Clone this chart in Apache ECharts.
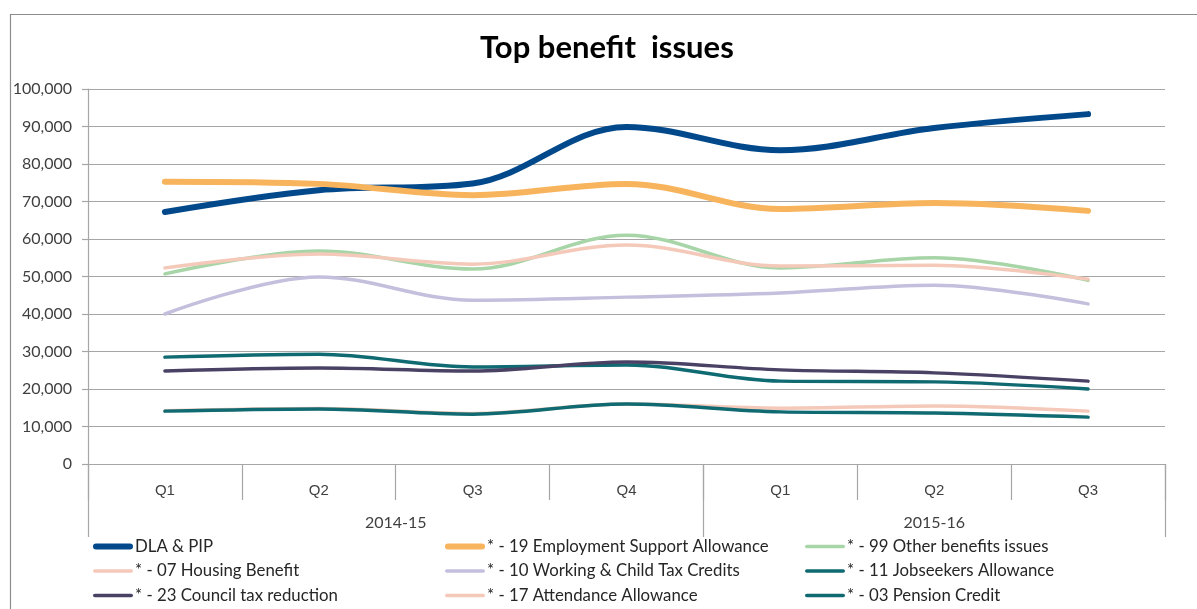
<!DOCTYPE html>
<html>
<head>
<meta charset="utf-8">
<title>Top benefit issues</title>
<script src="https://cdn.jsdelivr.net/npm/echarts@6/dist/echarts.min.js"></script>
<style>
  html, body { margin: 0; padding: 0; background: #fff; }
  #chart { width: 1197px; height: 609px; }
</style>
</head>
<body>
<div id="chart"></div>
<script>
// Quarters and financial years on the category axis
const quarters = ['Q1', 'Q2', 'Q3', 'Q4', 'Q1', 'Q2', 'Q3'];
const years = ['2014-15', '2015-16'];
const yearQuarterCounts = [4, 3];

// Enquiries per quarter for each benefit issue
const dlaPip = [67200, 73000, 74800, 89900, 83700, 89600, 93300];
const esa = [75300, 74700, 71700, 74700, 68000, 69600, 67500];
const otherBenefits = [50700, 56800, 52000, 61000, 52300, 55000, 49000];
const housingBenefit = [52300, 56000, 53300, 58400, 52800, 53000, 49300];
const taxCredits = [40000, 49900, 43700, 44500, 45600, 47700, 42700];
const jobseekers = [28500, 29300, 25900, 26400, 22100, 21900, 20000];
const councilTax = [24800, 25600, 24800, 27200, 25100, 24300, 22100];
const attendance = [14200, 14800, 13500, 16000, 14900, 15500, 14100];
const pensionCredit = [14100, 14700, 13300, 16000, 13900, 13600, 12500];

const seriesNames = [
  'DLA & PIP',
  '* - 19 Employment Support Allowance',
  '* - 99 Other benefits issues',
  '* - 07 Housing Benefit',
  '* - 10 Working & Child Tax Credits',
  '* - 11 Jobseekers Allowance',
  '* - 23 Council tax reduction',
  '* - 17 Attendance Allowance',
  '* - 03 Pension Credit'
];
const seriesData = [dlaPip, esa, otherBenefits, housingBenefit, taxCredits, jobseekers, councilTax, attendance, pensionCredit];
const seriesColors = ['#02498b', '#f8b45c', '#a7d5a7', '#f4c9b9', '#c3bfdd', '#0f6a72', '#4a4265', '#f4c9b9', '#0f6a72'];
const seriesWidths = [6, 6, 3.5, 3.5, 3.5, 3.5, 3.5, 3.5, 3.5];

// Year group boundaries and label centres on a 0..N scale
const yearBounds = [0];
const yearCentres = [];
yearQuarterCounts.forEach(function (n) {
  const start = yearBounds[yearBounds.length - 1];
  yearCentres.push(start + n / 2);
  yearBounds.push(start + n);
});

const chart = echarts.init(document.getElementById('chart'), null, { renderer: 'canvas' });

const axisGrey = '#a6a6a6';
const textColor = '#404040';

// Rounded line-segment legend key, 40 wide, as thick as the series line
function lineKey(w) {
  const r = w / 2;
  return 'path://M' + r + ',0 H' + (40 - r) + ' A' + r + ',' + r + ' 0 0 1 ' + (40 - r) + ',' + w +
    ' H' + r + ' A' + r + ',' + r + ' 0 0 1 ' + r + ',0 Z';
}

function legendColumn(indices, left) {
  return {
    orient: 'vertical',
    left: left,
    top: 538,
    height: 71,
    padding: 0,
    itemWidth: 40,
    itemHeight: 14,
    itemGap: 7.5,
    symbolKeepAspect: true,
    data: indices.map(function (i) {
      return { name: seriesNames[i], icon: lineKey(seriesWidths[i]) };
    }),
    textStyle: { fontFamily: 'Lato', fontSize: 16.8, lineHeight: 16, color: '#262626', padding: [0, 0, 0, -3] },
    selectedMode: false
  };
}

chart.setOption({
  backgroundColor: '#ffffff',
  animation: false,
  title: {
    text: 'Top benefit  issues',
    left: 480,
    top: 32,
    padding: 0,
    textStyle: { fontFamily: 'Lato', fontWeight: 'bold', fontSize: 31, color: '#000' }
  },
  graphic: [{
    type: 'rect',
    left: 8,
    top: 12,
    shape: { width: 1300, height: 800 },
    style: { fill: 'none', stroke: '#8c8c8c', lineWidth: 1.2 },
    silent: true,
    z: -10
  }],
  legend: [
    legendColumn([0, 3, 6], 93),
    legendColumn([1, 4, 7], 445),
    legendColumn([2, 5, 8], 805)
  ],
  grid: { left: 88, right: 32, top: 89, bottom: 145, containLabel: false },
  xAxis: [{
    type: 'category',
    data: quarters,
    boundaryGap: true,
    position: 'bottom',
    axisLine: { lineStyle: { color: axisGrey, width: 1.2 } },
    axisTick: { show: true, interval: 0, length: 36, lineStyle: { color: axisGrey, width: 1.2 } },
    axisLabel: { interval: 0, margin: 19, fontFamily: 'Liberation Sans', fontSize: 15, color: textColor }
  }, {
    type: 'value',
    min: 0,
    max: quarters.length,
    position: 'bottom',
    axisLine: { show: false, onZero: false },
    splitLine: { show: false },
    axisTick: { show: true, customValues: yearBounds, length: 73, lineStyle: { color: axisGrey, width: 1.2 } },
    axisLabel: {
      customValues: yearCentres,
      margin: 51,
      fontFamily: 'Lato',
      fontSize: 16,
      color: textColor,
      formatter: function (v) { return years[yearCentres.indexOf(v)]; }
    }
  }],
  yAxis: {
    type: 'value',
    min: 0,
    max: 100000,
    interval: 10000,
    axisLine: { show: true, lineStyle: { color: axisGrey, width: 1.2 } },
    axisTick: { show: true, length: 6, lineStyle: { color: axisGrey, width: 1.2 } },
    splitLine: { lineStyle: { color: axisGrey, width: 1.2 } },
    axisLabel: {
      margin: 16,
      fontFamily: 'Lato',
      fontSize: 16,
      color: textColor,
      formatter: function (v) { return v.toLocaleString('en-GB'); }
    }
  },
  series: seriesNames.map(function (name, i) {
    return {
      name: name,
      type: 'line',
      xAxisIndex: 0,
      data: seriesData[i],
      smooth: 0.35,
      symbol: 'none',
      lineStyle: { color: seriesColors[i], width: seriesWidths[i], cap: 'round', join: 'round' },
      itemStyle: { color: seriesColors[i] },
      z: 2
    };
  })
});
</script>
</body>
</html>
